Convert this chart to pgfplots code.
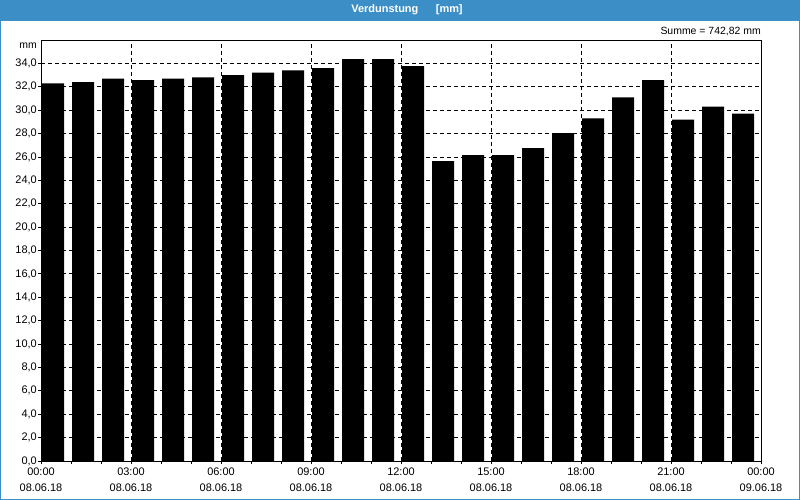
\documentclass[border=0pt]{standalone}
\usepackage{fontspec}
\setmainfont{Liberation Sans}
\usepackage{pgfplots}
\pgfplotsset{compat=1.18}
\definecolor{titleblue}{RGB}{60,143,198}

\begin{document}
\begin{tikzpicture}[x=1bp,y=1bp]
\useasboundingbox (0,0) rectangle (800,500);
\fill[white] (0,0) rectangle (800,500);
\fill[titleblue] (0,479) rectangle (800,500);
\draw[titleblue, line width=1.2bp] (0.6,0.6) rectangle (799.4,480);
\node[white, font=\fontsize{11}{12}\selectfont\bfseries] at (407,490) {Verdunstung\hspace{1.6em}[mm]};
\node[anchor=east, font=\fontsize{10.5}{12}\selectfont, inner sep=0pt] at (761,468) {Summe = 742,82 mm};
\node[anchor=east, font=\fontsize{10.5}{12}\selectfont, inner sep=0pt] at (37,454) {mm};

\begin{axis}[
  at={(41bp,39bp)}, anchor=south west,
  scale only axis, width=720bp, height=421bp,
  xmin=0, xmax=24, ymin=0, ymax=36,
  axis line style={black, line width=0.9bp},
  xtick={0,3,...,24},
  minor xtick={0,1,...,24},
  xticklabels={{00:00\\08.06.18},{03:00\\08.06.18},{06:00\\08.06.18},{09:00\\08.06.18},{12:00\\08.06.18},{15:00\\08.06.18},{18:00\\08.06.18},{21:00\\08.06.18},{00:00\\09.06.18}},
  xticklabel style={align=center, font=\fontsize{11}{15.5}\selectfont, inner sep=1bp, yshift=-3bp},
  ytick={0,2,...,34},
  yticklabel style={font=\fontsize{11}{12}\selectfont, inner sep=1bp},
  /pgf/number format/.cd, fixed, fixed zerofill, precision=1, use comma, assume math mode=true,
  /pgfplots/.cd,
  tick align=outside, xtick pos=bottom, ytick pos=left,
  major tick length=3bp, minor tick length=3bp,
  tick style={black, line width=0.8bp},
  xmajorgrids, ymajorgrids,
  major grid style={black, line width=0.8bp, dash pattern=on 4bp off 3bp},
]
\addplot[ybar, bar width=22bp, bar shift=12bp, fill=black, draw=none] coordinates {
  (0,32.3) (1,32.4) (2,32.7) (3,32.56) (4,32.7) (5,32.8)
  (6,33.0) (7,33.2) (8,33.4) (9,33.6) (10,34.36) (11,34.36)
  (12,33.76) (13,25.64) (14,26.15) (15,26.15) (16,26.75) (17,28.03)
  (18,29.3) (19,31.1) (20,32.56) (21,29.2) (22,30.3) (23,29.7)
};
\end{axis}
\end{tikzpicture}
\end{document}
